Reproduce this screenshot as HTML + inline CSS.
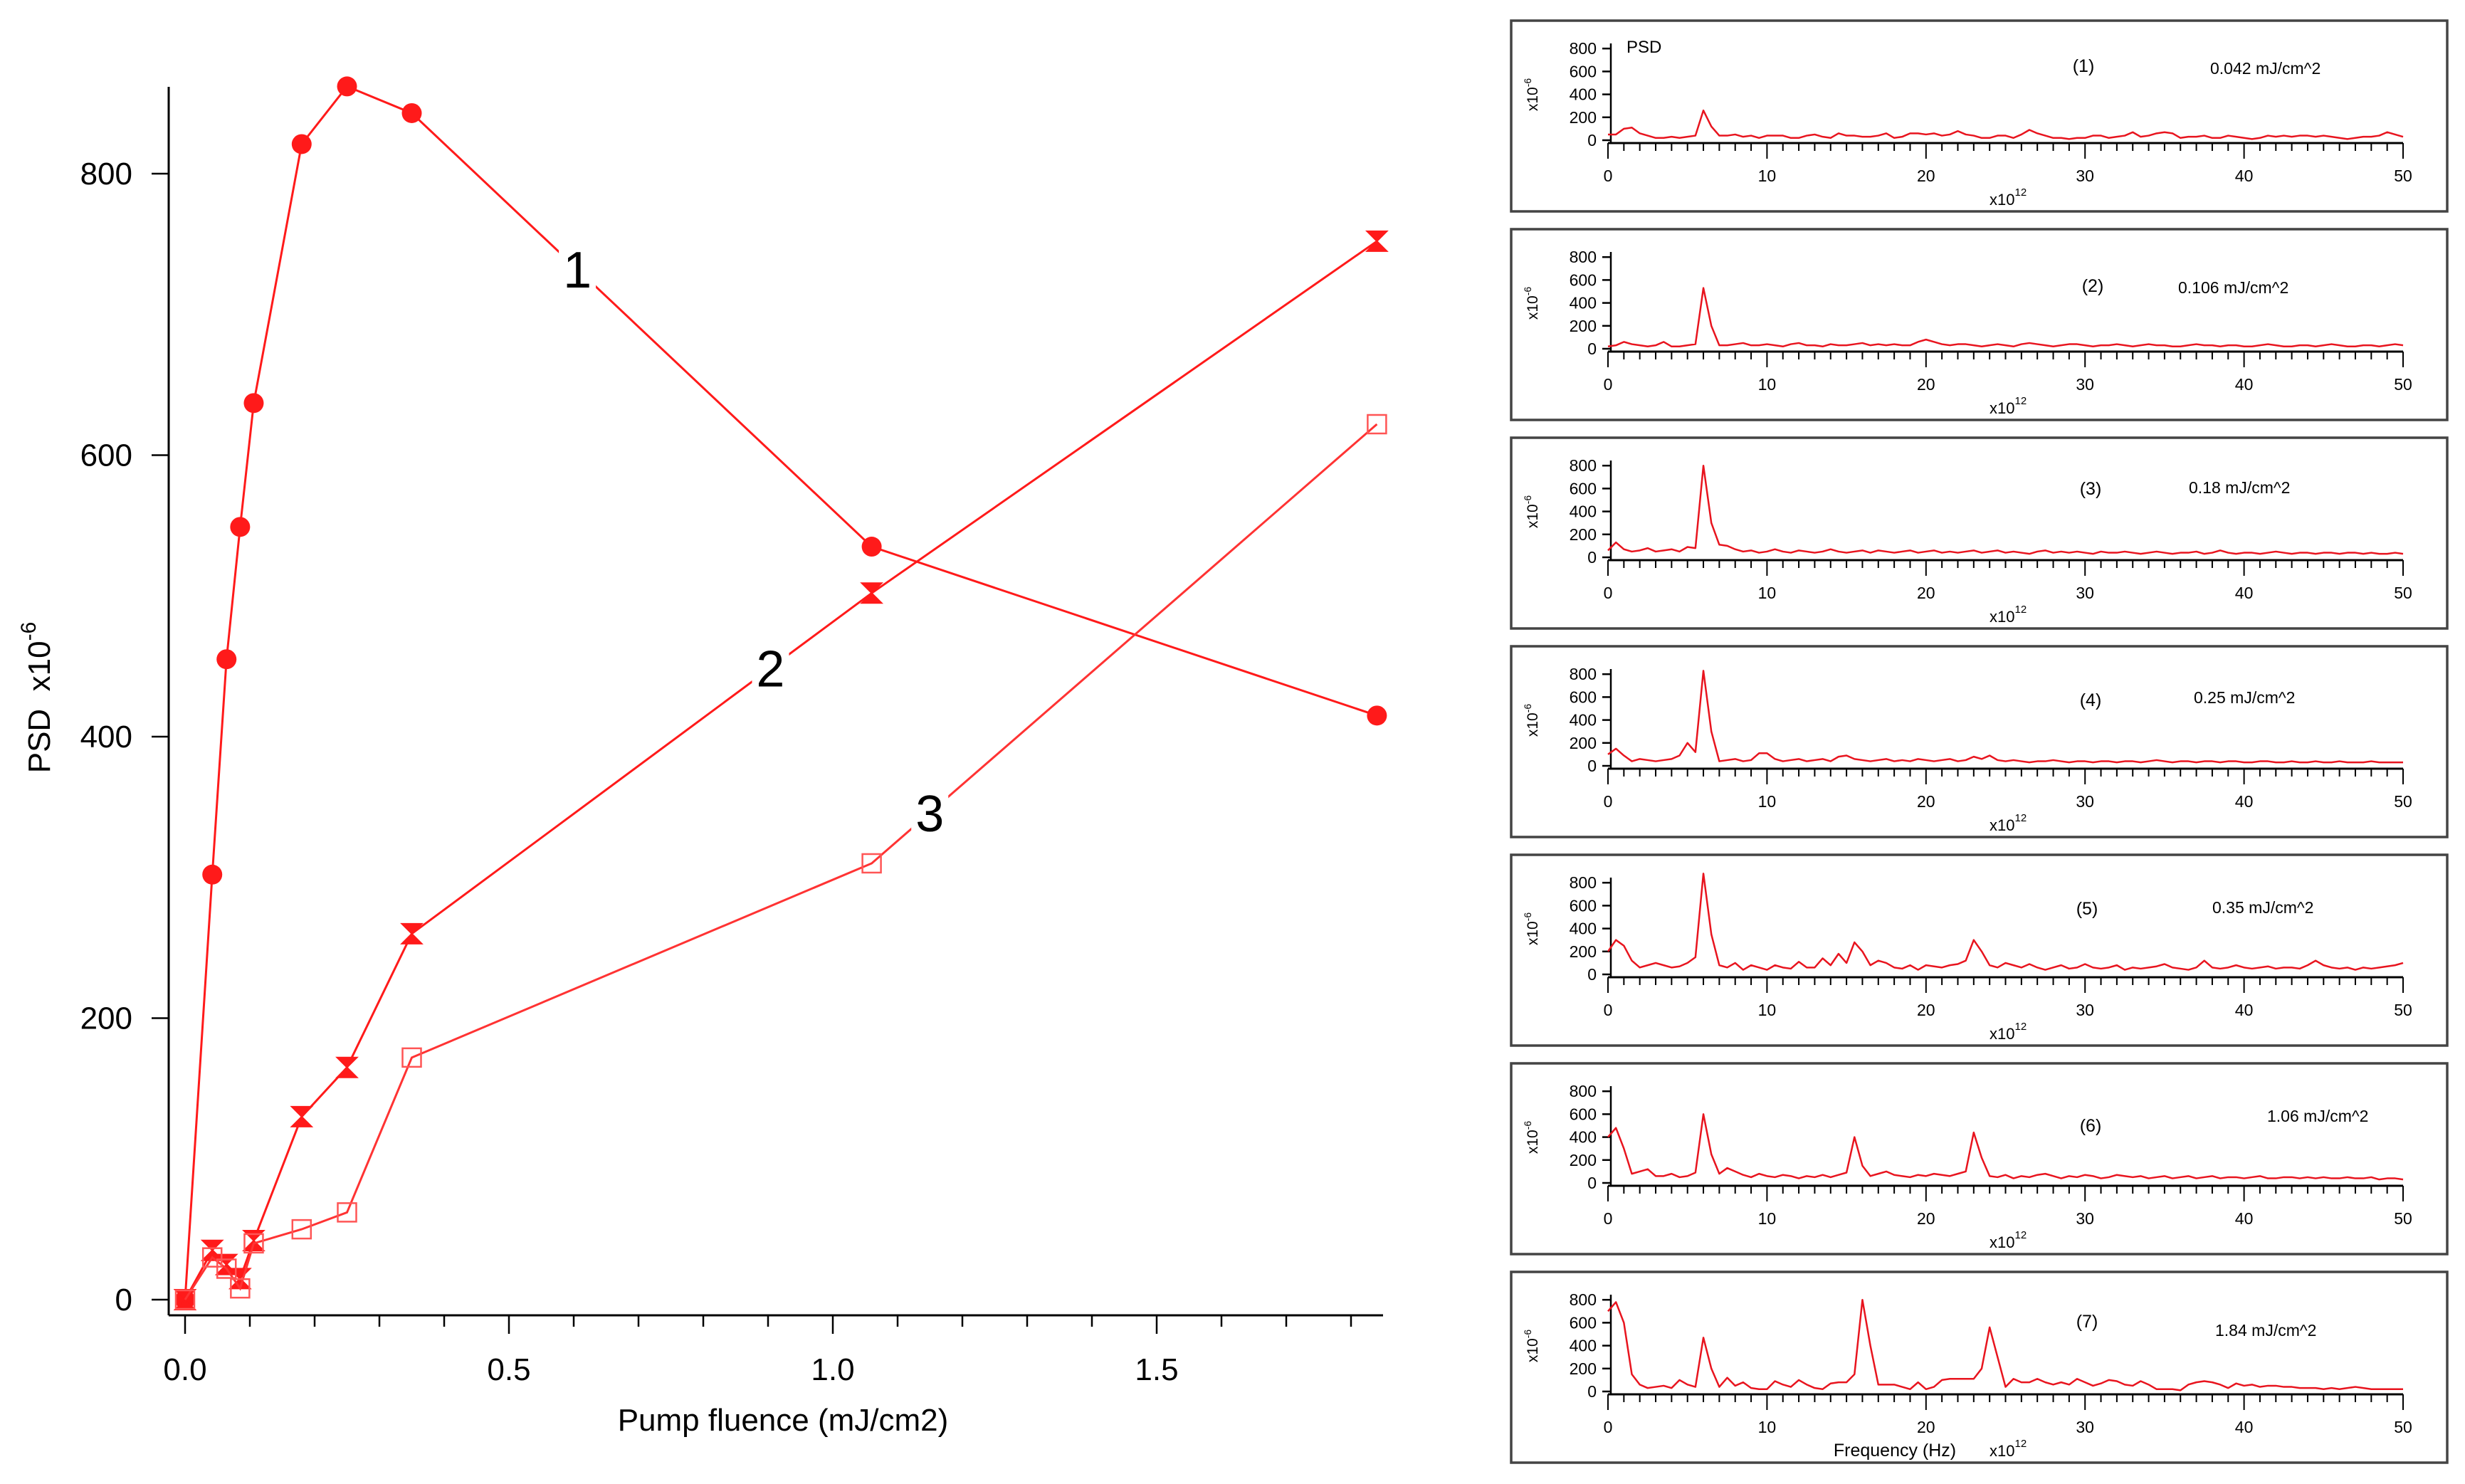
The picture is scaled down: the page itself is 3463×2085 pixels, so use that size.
<!DOCTYPE html>
<html><head><meta charset="utf-8"><style>
html,body{margin:0;padding:0;background:#fff;}
svg{display:block;font-family:"Liberation Sans",Arial,sans-serif;}
</style></head><body>
<svg id="fig" width="3463" height="2085" viewBox="0 0 3463 2085">
<g id="main"></g>
<g id="panels"></g>
</svg>
<script>
const NS='http://www.w3.org/2000/svg';
const fluence=[0,0.042,0.064,0.085,0.106,0.18,0.25,0.35,1.06,1.84];
const series1=[0,302,455,549,637,821,862,843,535,415];
const series2=[0,35,25,15,42,130,165,260,502,752];
const series3=[0,30,22,8,40,50,62,172,310,622];
const xTicks=[0,0.5,1.0,1.5];
const xTickLabels=['0.0','0.5','1.0','1.5'];
const yTicks=[0,200,400,600,800];
const yTickLabels=['0','200','400','600','800'];
const seriesLabels=['1','2','3'];

const panelNames=['(1)','(2)','(3)','(4)','(5)','(6)','(7)'];
const panelFluence=['0.042 mJ/cm^2','0.106 mJ/cm^2','0.18 mJ/cm^2','0.25 mJ/cm^2','0.35 mJ/cm^2','1.06 mJ/cm^2','1.84 mJ/cm^2'];
const freqTicks=[0,10,20,30,40,50];
const psdTicks=[0,200,400,600,800];
const spec1=[50,50,100,110,60,40,20,20,30,20,30,40,260,120,40,40,50,30,40,20,40,40,40,20,20,40,50,30,20,60,40,40,30,30,40,60,20,30,60,60,50,60,40,50,80,50,40,20,20,40,40,20,50,90,60,40,20,20,10,20,20,40,40,20,30,40,70,30,40,60,70,60,20,30,30,40,20,20,40,30,20,10,20,40,30,40,30,40,40,30,40,30,20,10,20,30,30,40,70,50,30];
const spec2=[20,30,60,40,30,20,30,60,20,20,30,40,530,200,30,30,40,50,30,30,40,30,20,40,50,30,30,20,40,30,30,40,50,30,40,30,40,30,30,60,80,60,40,30,40,40,30,20,30,40,30,20,40,50,40,30,20,30,40,40,30,20,30,30,40,30,20,30,40,30,30,20,20,30,40,30,30,20,30,30,20,20,30,40,30,20,20,30,30,20,30,40,30,20,20,30,30,20,30,40,30];
const spec3=[60,130,70,50,60,80,50,60,70,50,90,80,800,300,110,100,70,50,60,40,50,70,50,40,60,50,40,50,70,50,40,50,60,40,60,50,40,50,60,40,50,60,40,50,40,50,60,40,50,60,40,50,40,30,50,60,40,50,40,50,40,30,50,40,40,50,40,30,40,50,40,30,40,40,50,30,40,60,40,30,40,40,30,40,50,40,30,40,40,30,40,40,30,40,40,30,40,30,30,40,30];
const spec4=[100,150,90,40,60,50,40,50,60,90,200,120,830,300,40,50,60,40,50,110,110,60,40,50,60,40,50,60,40,80,90,60,50,40,50,60,40,50,40,60,50,40,50,60,40,50,80,60,90,50,40,50,40,30,40,40,50,40,30,40,40,30,40,40,30,40,40,30,40,50,40,30,40,40,30,40,40,30,40,40,30,30,40,40,30,30,40,30,30,40,30,30,40,30,30,30,40,30,30,30,30];
const spec5=[200,300,250,120,60,80,100,80,60,70,100,150,880,350,80,60,100,40,80,60,40,80,60,50,110,60,60,140,80,180,100,280,200,80,120,100,60,50,80,40,80,70,60,80,90,120,300,200,80,60,100,80,60,90,60,40,60,80,50,60,90,60,50,60,80,40,60,50,60,70,90,60,50,40,60,120,60,50,60,80,60,50,60,70,50,60,60,50,80,120,80,60,50,60,40,60,50,60,70,80,100];
const spec6=[400,480,300,80,100,120,60,60,80,50,60,90,600,250,80,130,100,70,50,80,60,50,70,60,40,60,50,70,50,70,90,400,150,60,80,100,70,60,50,70,60,80,70,60,80,100,440,220,60,50,70,40,60,50,70,80,60,40,60,50,70,60,40,50,70,60,50,60,40,50,60,40,50,60,40,50,60,40,50,50,40,50,60,40,40,50,50,40,50,40,50,40,40,50,40,40,50,30,40,40,30];
const spec7=[700,780,600,150,60,30,40,50,30,100,60,40,470,200,40,120,50,80,30,20,20,90,60,40,100,60,30,20,70,80,80,150,800,400,60,60,60,40,20,80,20,40,100,110,110,110,110,200,560,300,40,110,80,80,110,80,60,80,60,110,80,50,70,100,90,60,50,90,60,20,20,20,10,60,80,90,80,60,30,70,50,60,40,50,50,40,40,30,30,30,20,30,20,30,40,30,20,20,20,20,20];
const spectra=[spec1,spec2,spec3,spec4,spec5,spec6,spec7];
const specStep=0.5;

function el(tag,attrs,parent){const e=document.createElementNS(NS,tag);for(const k in attrs)e.setAttribute(k,attrs[k]);parent.appendChild(e);return e;}

// ---------- main chart ----------
const main=document.getElementById('main');
const X0=260,XPU=910,Y0=1826,YPU=1.9775;
const sx=v=>X0+v*XPU, sy=v=>Y0-v*YPU;
const RED='#ff1a1a';
const AXY=1848;
let a=el('line',{x1:237,y1:122,x2:237,y2:AXY,stroke:'#000','stroke-width':3},main);


a=el('line',{x1:237,y1:AXY,x2:1943,y2:AXY,stroke:'#000','stroke-width':3},main);


for(let i=0;i<=18;i++){const v=i*0.1;const x=sx(v);const major=(i%5===0);
  const t=el('line',{x1:x,y1:AXY,x2:x,y2:AXY+(major?26:16),stroke:'#000','stroke-width':2.5},main);
  
  }
xTicks.forEach((v,i)=>{const t=el('text',{x:sx(v),y:1939,'font-size':44,'text-anchor':'middle'},main);t.textContent=xTickLabels[i];
  
  });
yTicks.forEach((v,i)=>{const y=sy(v);el('line',{x1:237,y1:y,x2:213,y2:y,stroke:'#000','stroke-width':2.5},main);
  const t=el('text',{x:186,y:y+15,'font-size':44,'text-anchor':'end'},main);t.textContent=yTickLabels[i];
  
  });
let tt=el('text',{x:1100,y:2010,'font-size':44,'text-anchor':'middle'},main);tt.textContent='Pump fluence (mJ/cm2)';


tt=el('text',{x:0,y:0,'font-size':44,'text-anchor':'middle',transform:'translate(70,980) rotate(-90)'},main);
tt.innerHTML='PSD&#160; x10<tspan dy="-20" font-size="30">-6</tspan>';



function drawSeries(vals,kind,color,name,labelIdx,labelSeg,labelFrac){
  const g=el('g',{},main);
  
  
  const pts=fluence.map((f,i)=>[sx(f),sy(vals[i])]);
  el('polyline',{points:pts.map(p=>p.join(',')).join(' '),fill:'none',stroke:color,'stroke-width':3},g);
  pts.forEach(p=>{let m;
    if(kind==='circle') m=el('circle',{cx:p[0],cy:p[1],r:14,fill:color},g);
    else if(kind==='hour') m=el('path',{d:`M${p[0]-14},${p[1]-14}H${p[0]+14}L${p[0]-14},${p[1]+14}H${p[0]+14}Z`,fill:color,stroke:color,'stroke-width':2},g);
    else m=el('rect',{x:p[0]-13,y:p[1]-13,width:26,height:26,fill:'none',stroke:'#f55','stroke-width':2.5},g);
    
    });
  const a=pts[labelSeg],b=pts[labelSeg+1];
  const lx=a[0]+(b[0]-a[0])*labelFrac, ly=a[1]+(b[1]-a[1])*labelFrac;
  el('rect',{x:lx-26,y:ly-36,width:52,height:72,fill:'#fff'},g);
  const t=el('text',{x:lx,y:ly+26,'font-size':72,'text-anchor':'middle'},g);t.textContent=seriesLabels[labelIdx];
  
  
}
drawSeries(series1,'circle',RED,'series-1',0,7,0.36);
drawSeries(series2,'hour',RED,'series-2',1,7,0.78);
drawSeries(series3,'square','#f33','series-3',2,8,0.115);

// ---------- panels ----------
const panels=document.getElementById('panels');
const PX0=2259,PX1=3376;
for(let p=0;p<7;p++){
  const top=29+p*293;
  const g=el('g',{},panels);
  
  
  el('rect',{x:2123,y:top,width:1315,height:268,fill:'#fff',stroke:'#444','stroke-width':3.5},g);
  const fx=v=>PX0+v*(PX1-PX0)/50, fy=v=>top+168-v*0.161;
  const axY=top+172;
  el('line',{x1:2263,y1:top+32,x2:2263,y2:axY,stroke:'#000','stroke-width':2.5},g);
  el('line',{x1:2259,y1:axY,x2:PX1,y2:axY,stroke:'#000','stroke-width':3},g);
  for(let i=0;i<=50;i++){const x=fx(i);el('line',{x1:x,y1:axY,x2:x,y2:axY+(i%10===0?22:11),stroke:'#000','stroke-width':2},g);}
  freqTicks.forEach(v=>{const t=el('text',{x:fx(v),y:top+226,'font-size':23,'text-anchor':'middle'},g);t.textContent=String(v);
    
    });
  psdTicks.forEach(v=>{const y=fy(v);el('line',{x1:2263,y1:y,x2:2251,y2:y,stroke:'#000','stroke-width':2.5},g);
    const t=el('text',{x:2243,y:y+8,'font-size':23,'text-anchor':'end'},g);t.textContent=String(v);
    
    });
  let t=el('text',{x:0,y:0,'font-size':21,'text-anchor':'middle',transform:`translate(2160,${top+104}) rotate(-90)`},g);
  t.innerHTML='x10<tspan dy="-9" font-size="14">-6</tspan>';
  const fr=spectra[p];
  const pts=fr.map((v,i)=>[fx(i*specStep),Math.max(top+4,fy(v))]).filter(q=>q[0]<=PX1+1);
  const line=el('polyline',{points:pts.map(q=>q.join(',')).join(' '),fill:'none',stroke:'#e8141e','stroke-width':2.5,'stroke-linejoin':'round'},g);
  
  
  const nx=[2927,2940,2937,2937,2932,2937,2932][p];
  const ny=[72,88,80,84,84,96,78][p];
  t=el('text',{x:nx,y:top+ny,'font-size':25,'text-anchor':'middle'},g);t.textContent=panelNames[p];
  
  
  const mx=[3105,3060,3075,3082,3108,3185,3112][p];
  const my=[75,90,78,80,82,82,90][p];
  t=el('text',{x:mx,y:top+my,'font-size':23},g);t.textContent=panelFluence[p];
  
  
  if(p===0){t=el('text',{x:2285,y:top+45,'font-size':24},g);t.textContent='PSD';
    
    }
  if(p===6){t=el('text',{x:2662,y:top+259,'font-size':25,'text-anchor':'middle'},g);t.textContent='Frequency (Hz)';
    
    }
  t=el('text',{x:2795,y:top+259,'font-size':22},g);
  t.innerHTML='x10<tspan dy="-13" font-size="15">12</tspan>';
}
</script>
</body></html>
